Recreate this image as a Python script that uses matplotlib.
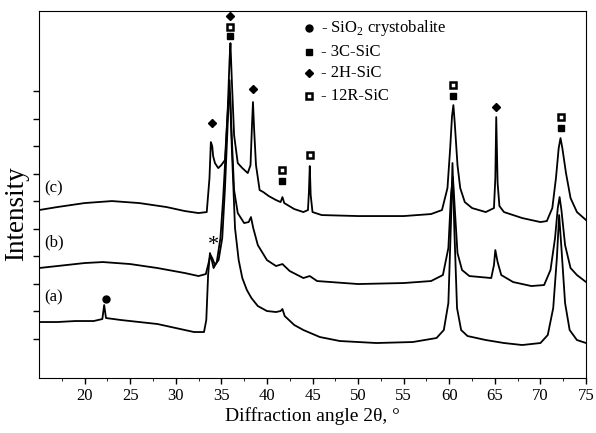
import matplotlib
matplotlib.use("Agg")
import matplotlib.pyplot as plt

plt.rcParams['font.family'] = ['Liberation Serif', 'DejaVu Serif']
plt.rcParams['mathtext.fontset'] = 'custom'
plt.rcParams['mathtext.rm'] = 'Liberation Serif'

# traces (2theta, intensity in arb. units)
xc = [15.0, 17, 20, 23, 26, 29, 31, 32.5, 33.4, 33.7, 33.85, 34.0, 34.1, 34.3, 34.66, 35.0, 35.4, 35.7, 35.9,
      36.0, 36.15, 36.4, 36.8, 37.3, 37.9, 38.2, 38.35, 38.47, 38.6, 38.8, 39.2, 39.6, 40.2, 41.0, 41.5, 41.7,
      41.9, 43.0, 44.0, 44.5, 44.6, 44.7, 44.8, 45.0, 46, 50, 55, 58, 59.2, 59.8, 60.1, 60.3, 60.45, 60.6,
      60.9, 61.2, 61.7, 62.5, 64.0, 64.9, 65.05, 65.15, 65.3, 65.5, 66, 68, 70, 70.7, 71.3, 71.7, 72.0, 72.2,
      72.4, 72.8, 73.3, 74.0, 75.0]
yc = [168, 171, 175, 177, 175, 171, 167, 165, 166, 200, 236, 232, 222, 215, 210, 213, 218, 268, 318,
      335, 298, 243, 215, 210, 205, 213, 250, 276, 248, 213, 188, 186, 182, 178, 176, 181,
      175, 169, 166, 168, 185, 212, 183, 166, 163, 162, 162, 164, 168, 190, 230, 262, 273, 255,
      213, 190, 176, 170, 166, 170, 200, 261, 195, 172, 166, 160, 156, 157, 170, 200, 230, 240,
      230, 205, 180, 166, 158]

xb = [15.0, 17, 20, 22, 25, 28, 31, 32.5, 33.3, 33.6, 33.8, 34.0, 34.3, 34.7, 35.1, 35.4, 35.7, 35.9, 36.1,
      36.4, 36.8, 37.5, 38.0, 38.25, 38.5, 39.0, 40.0, 41.0, 41.7, 42.5, 44, 44.7, 45.5, 50, 55, 58, 59.3,
      59.9, 60.2, 60.4, 60.6, 60.9, 61.4, 62.2, 64.6, 64.9, 65.05, 65.3, 65.7, 67, 69, 70.4, 71.1, 71.6,
      71.9, 72.1, 72.3, 72.7, 73.3, 74, 75.0]
yb = [110, 112, 115, 116, 114, 110, 105, 102, 104, 115, 123, 120, 113, 118, 140, 190, 255, 298, 250,
      188, 165, 155, 156, 161, 150, 133, 118, 112, 114, 107, 100, 102, 97, 94, 95, 97, 103,
      130, 185, 201, 170, 125, 108, 102, 100, 113, 128, 116, 103, 96, 92, 93, 108, 140,
      170, 181, 168, 133, 110, 103, 96]

xa = [15.0, 17, 19, 21, 21.95, 22.15, 22.35, 24, 26, 28, 30, 32, 33.1, 33.35, 33.55, 33.75, 33.95, 34.15,
      34.5, 34.9, 35.2, 35.5, 35.75, 35.95, 36.15, 36.5, 36.9, 37.3, 37.8, 38.3, 39.0, 40.0, 41.0, 41.5,
      41.7, 41.95, 43.0, 44.0, 45.8, 48, 52, 56, 58.6, 59.4, 59.9, 60.2, 60.35, 60.55, 60.85, 61.3, 62,
      64, 66, 68, 70, 70.8, 71.4, 71.8, 72.05, 72.3, 72.7, 73.2, 74, 75.0]
ya = [56, 56, 57, 57, 59, 73, 60, 58, 56, 54, 50, 46, 46, 58, 103, 125, 118, 110,
      116, 140, 180, 230, 275, 285, 230, 150, 118, 100, 88, 80, 72, 67, 66, 67,
      69, 62, 53, 48, 41, 37, 35, 36, 40, 48, 75, 160, 215, 150, 70, 48, 42,
      38, 35, 33, 35, 43, 70, 120, 163, 130, 75, 48, 38, 35]

tags = ['(a)', '(b)', '(c)']
tag_y = [81, 136, 190]

phases = [r'SiO$_2$ crystobalite', '3C-SiC', '2H-SiC', '12R-SiC']

# reflection marks
circ_x, circ_y = [22.3], [79]
sq_x = [36.0, 60.45, 72.2, 41.7]
sq_y = [342, 282, 250, 197]
osq_x = [36.0, 60.45, 72.2, 41.7, 44.7]
osq_y = [351, 293, 261, 208, 223]
dia_x = [36.0, 34.0, 38.47, 65.15]
dia_y = [362, 255, 289, 271]

yticks = [39.5, 67, 94.5, 122, 149.5, 177, 204.5, 232, 259.5, 287]

fig = plt.figure(figsize=(5.96, 4.33), dpi=100)
ax = fig.add_axes([0.0654, 0.127, 0.9179, 0.848])

for xs, ys in [(xa, ya), (xb, yb), (xc, yc)]:
    ax.plot(xs, ys, color='black', lw=1.3)

ms = 5
ax.plot(circ_x, circ_y, 'o', color='black', ms=ms)
ax.plot(sq_x, sq_y, 's', color='black', ms=ms)
ax.plot(osq_x, osq_y, 's', mfc='white', mec='black', mew=1.8, ms=ms)
ax.plot(dia_x, dia_y, 'D', color='black', ms=4.2)
ax.text(34.1, 133, '*', fontsize=16, ha='center', va='center')

for t, ty in zip(tags, tag_y):
    ax.text(15.6, ty, t, fontsize=12, ha='left', va='center')

# legend drawn by hand
lx, tx = 44.6, 45.9
ly = [350, 326, 305, 282]
kinds = [('o', 'black', 'black'), ('s', 'black', 'black'), ('D', 'black', 'black'), ('s', 'white', 'black')]
for (m, fc, ec), yy, lab in zip(kinds, ly, phases):
    ax.plot([lx], [yy], m, mfc=fc, mec=ec, mew=1.8 if fc == 'white' else 1, ms=4.2 if m == 'D' else ms)
    ax.text(tx, yy, '- ' + lab, fontsize=12, va='center', ha='left')

ax.set_xlim(15, 75)
ax.set_ylim(0, 367.3)
ax.set_xticks([20, 25, 30, 35, 40, 45, 50, 55, 60, 65, 70, 75])
ax.set_xticks([17.5, 22.5, 27.5, 32.5, 37.5, 42.5, 47.5, 52.5, 57.5, 62.5, 67.5, 72.5], minor=True)
ax.set_yticks(yticks)
ax.set_yticklabels([])
ax.tick_params(axis='both', direction='out', labelsize=12, length=4, width=1)
ax.tick_params(axis='x', which='minor', direction='out', length=2.5)
ax.set_xlabel('Diffraction angle 2θ, °', fontsize=14, labelpad=2)
fig.text(17 / 596, 1 - 214 / 433, 'Intensity', rotation=90, fontsize=19.5, ha='center', va='center')

fig.savefig('out.png', dpi=100)
